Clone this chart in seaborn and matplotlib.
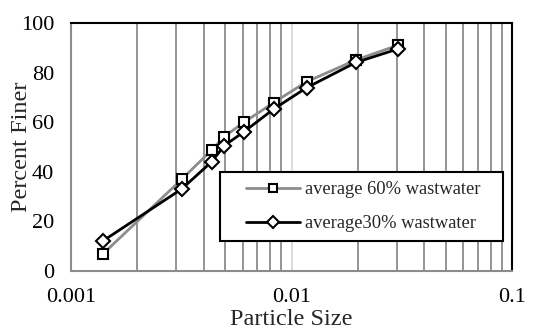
import matplotlib
matplotlib.use("Agg")
import matplotlib.pyplot as plt
import matplotlib.ticker as mticker
import matplotlib.patches as mpatches
import seaborn as sns
import pandas as pd
import numpy as np

particle_size = [0.0014, 0.00318, 0.00435, 0.00495, 0.0061, 0.0083, 0.0117, 0.0196, 0.0303]
avg60 = [7.0, 37.0, 48.8, 54.2, 60.0, 67.9, 76.3, 85.1, 91.0]
avg30 = [12.2, 33.1, 44.1, 50.5, 56.2, 65.3, 73.9, 84.1, 89.5]
series_names = ["average 60% wastwater", "average30% wastwater"]
x_ticks = [0.001, 0.01, 0.1]
x_tick_labels = ["0.001", "0.01", "0.1"]
y_ticks = [0, 20, 40, 60, 80, 100]

sns.set_style("white")
plt.rcParams["font.family"] = ["Liberation Serif", "DejaVu Serif"]

fig = plt.figure(figsize=(5.33, 3.29), dpi=100)
ax = fig.add_axes([71/533, 1-271/329, (512-71)/533, (271-23)/329])

# vertical gridlines (Excel style)
for d in [0.001, 0.01]:
    for k in range(2, 10):
        ax.axvline(d*k, color="#8c8c8c", lw=1.3, zorder=0)
ax.axvline(0.01, color="#d9d9d9", lw=1.3, zorder=0)

df = pd.DataFrame({"size": particle_size, "a60": avg60, "a30": avg30})
sns.lineplot(data=df, x="size", y="a60", ax=ax, color="#8c8c8c", lw=2,
             marker="s", markersize=7.5, markerfacecolor="white",
             markeredgecolor="black", markeredgewidth=1.5,
             label=series_names[0], zorder=3)
sns.lineplot(data=df, x="size", y="a30", ax=ax, color="black", lw=2,
             marker="D", markersize=7.5, markerfacecolor="white",
             markeredgecolor="black", markeredgewidth=1.5,
             label=series_names[1], zorder=4)

ax.set_xscale("log")
ax.set_xlim(0.001, 0.1)
ax.set_ylim(0, 100)
ax.set_xticks(x_ticks)
ax.set_xticklabels(x_tick_labels)
ax.xaxis.set_minor_locator(mticker.NullLocator())
ax.set_yticks(y_ticks)
ax.tick_params(axis="both", which="major", labelsize=16, length=4,
               color="#d0d0d0", width=1, direction="out", labelcolor="black")
ax.tick_params(axis="x", pad=8)
ax.tick_params(axis="y", pad=8)
ax.set_xlabel("Particle Size", fontsize=17.5, labelpad=2)
ax.set_ylabel("Percent Finer", fontsize=17.5)
ax.yaxis.set_label_coords(-0.088, 0.5)

for side in ["top", "right"]:
    ax.spines[side].set_color("black")
    ax.spines[side].set_linewidth(1.5)
for side in ["left", "bottom"]:
    ax.spines[side].set_color("#8c8c8c")
    ax.spines[side].set_linewidth(1.5)
    ax.spines[side].set_visible(True)

# legend box
box = mpatches.Rectangle(((220-71)/441, (271-241)/248), (503-220)/441, (241-172)/248,
                         transform=ax.transAxes, facecolor="white", edgecolor="black",
                         lw=1.5, zorder=4.5)
ax.add_patch(box)
leg = ax.legend(loc="center left", bbox_to_anchor=((246-71)/441, (271-206.5)/248),
                fontsize=13.3, frameon=False, handlelength=2.9, handletextpad=0.3,
                markerscale=0.75, borderpad=0, borderaxespad=0, labelspacing=0.92)
leg.set_zorder(6)

fig.savefig("out.png", dpi=100)
